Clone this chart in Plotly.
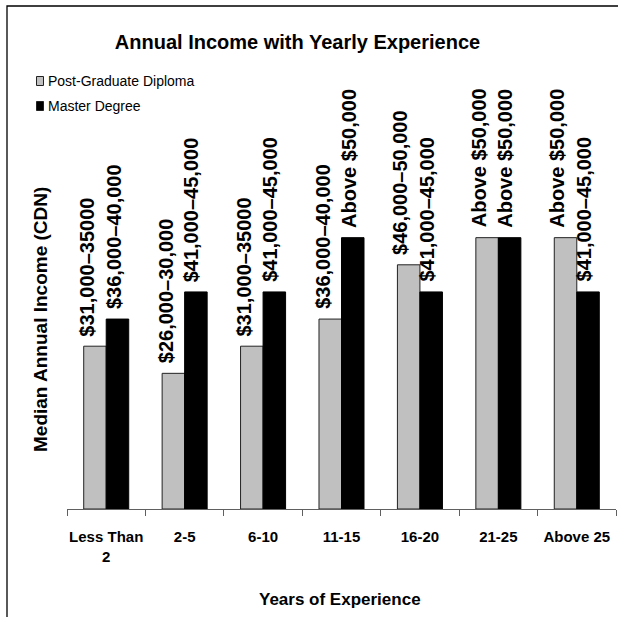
import plotly.graph_objects as go

# ---------------- data ----------------
categories = ["Less Than<br>2", "2-5", "6-10", "11-15", "16-20", "21-25", "Above 25"]
# income bracket codes: 5=$26-30k, 6=$31-35k, 7=$36-40k, 8=$41-45k, 9=$46-50k, 10=Above $50k
pgd_values = [6, 5, 6, 7, 9, 10, 10]
master_values = [7, 8, 8, 10, 8, 10, 8]
pgd_labels = ["$31,000\u201335000", "$26,000\u201330,000", "$31,000\u201335000", "$36,000\u201340,000",
              "$46,000\u201350,000", "Above $50,000", "Above $50,000"]
master_labels = ["$36,000\u201340,000", "$41,000\u201345,000", "$41,000\u201345,000", "Above $50,000",
                 "$41,000\u201345,000", "Above $50,000", "$41,000\u201345,000"]
series_names = ["Post-Graduate Diploma", "Master Degree"]

# ---------------- layout geometry ----------------
W, H = 618, 617
L, R, T, B = 67, 2, 102, 108
PW, PH = W - L - R, H - T - B

def px(x):
    return (x - L) / PW

def py(y):
    return (H - B - y) / PH

FONT = "Arial, Liberation Sans, sans-serif"
GRAY = "#C0C0C0"

fig = go.Figure()
fig.add_trace(go.Bar(x=categories, y=pgd_values, name=series_names[0],
                     marker=dict(color=GRAY, line=dict(color="#222222", width=1)),
                     showlegend=False))
fig.add_trace(go.Bar(x=categories, y=master_values, name=series_names[1],
                     marker=dict(color="#000000", line=dict(color="#000000", width=1)),
                     showlegend=False))

# value labels above bars
bar_half = 11.25
for vals, labs, shift in ((pgd_values, pgd_labels, -bar_half - 8),
                          (master_values, master_labels, bar_half - 4)):
    for c, v, t in zip(categories, vals, labs):
        fig.add_annotation(x=c, y=v, xref="x", yref="y", text="<b>%s</b>" % t,
                           textangle=-90, showarrow=False, xanchor="center", yanchor="bottom",
                           xshift=shift, yshift=8,
                           font=dict(family=FONT, size=20, color="#000000"))

# axis titles
fig.add_annotation(x=px(40), y=py(320), xref="paper", yref="paper",
                   text="<b>Median Annual Income (CDN)</b>", textangle=-90, showarrow=False,
                   xanchor="center", yanchor="middle",
                   font=dict(family=FONT, size=19, color="#000000"))
fig.add_annotation(x=px(340), y=py(599), xref="paper", yref="paper",
                   text="<b>Years of Experience</b>", showarrow=False,
                   xanchor="center", yanchor="middle",
                   font=dict(family=FONT, size=17, color="#000000"))

# custom legend
legend_rows = [(81, GRAY, series_names[0]), (106, "#000000", series_names[1])]
for yc, col, name in legend_rows:
    fig.add_shape(type="rect", xref="paper", yref="paper",
                  x0=px(36.5), x1=px(43.5), y0=py(yc - 4.5), y1=py(yc + 4.5),
                  fillcolor=col, line=dict(color="#222222", width=1))
    fig.add_annotation(x=px(45.5), y=py(yc), xref="paper", yref="paper", text=name,
                       showarrow=False, xanchor="left", yanchor="middle",
                       font=dict(family=FONT, size=14, color="#000000"))

# outer frame (top and left edges visible)
fig.add_shape(type="rect", xref="paper", yref="paper",
              x0=px(7), x1=px(W + 20), y0=py(H + 20), y1=py(6),
              line=dict(color="#000000", width=1.3), fillcolor="rgba(0,0,0,0)")

fig.update_layout(
    width=W, height=H,
    margin=dict(l=L, r=R, t=T, b=B, autoexpand=False),
    paper_bgcolor="white", plot_bgcolor="white",
    barmode="group", bargap=0.426, bargroupgap=0,
    title=dict(text="<b>Annual Income with Yearly Experience</b>", x=297.5 / W, xref="container",
               xanchor="center", y=1 - 42 / H, yref="container", yanchor="middle",
               font=dict(family=FONT, size=20, color="#000000")),
    xaxis=dict(type="category", showline=True, linecolor="#606060", linewidth=1,
               ticks="outside", tickson="boundaries", ticklen=6, tickcolor="#606060",
               tickangle=0, automargin=False,
               tickfont=dict(family=FONT, size=15, color="#000000"),
               ticklabelstandoff=14, showgrid=False, zeroline=False),
    yaxis=dict(range=[0, 15], showline=False, showgrid=False, zeroline=False,
               showticklabels=False, ticks="", automargin=False),
    showlegend=False,
)
# bold tick labels
fig.update_xaxes(tickvals=categories, ticktext=["<b>%s</b>" % c for c in categories])

fig.write_html("out.html", config={"displayModeBar": False},
               post_script="document.body.style.margin='0';document.body.style.overflow='hidden';")
